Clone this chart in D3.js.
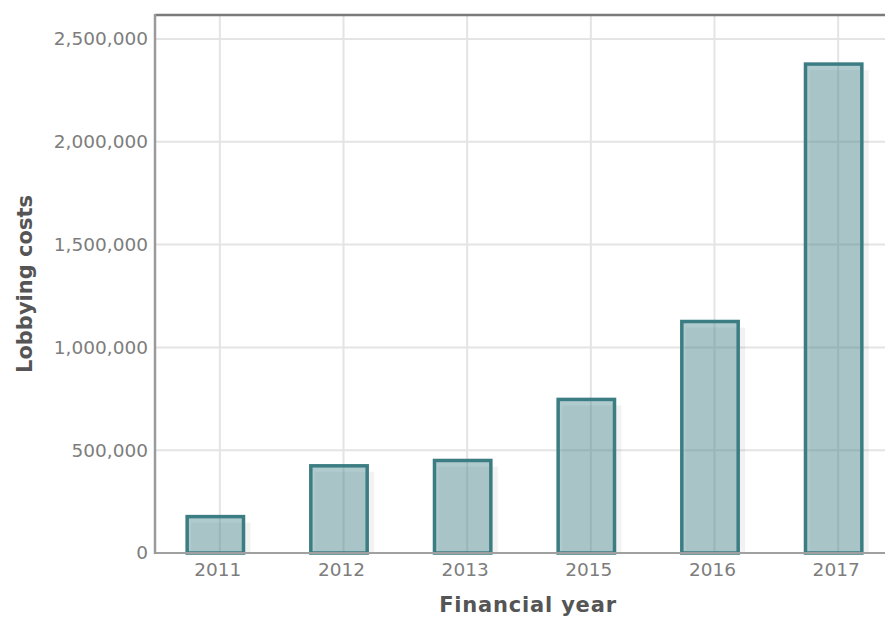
<!DOCTYPE html>
<html>
<head>
<meta charset="utf-8">
<script src="https://cdn.jsdelivr.net/npm/d3@7"></script>
<style>
body { margin: 0; background: #fff; }
svg { display: block; font-family: "DejaVu Sans", sans-serif; }
</style>
</head>
<body>
<script>
// data
var years = ['2011', '2012', '2013', '2015', '2016', '2017'];
var costs = [177000, 424000, 450000, 747000, 1126000, 2378000];
var yTicks = [0, 500000, 1000000, 1500000, 2000000, 2500000];

var data = years.map(function(y, i) { return {year: y, value: costs[i]}; });

var width = 885, height = 617;
var plotLeft = 155, plotTop = 15, plotBottom = 553, plotRight = 897;

var svg = d3.select('body')
  .append('svg')
  .attr('width', width)
  .attr('height', height);

var x = d3.scaleBand()
  .domain(years)
  .range([plotLeft, plotRight])
  .paddingInner(0.52)
  .paddingOuter(0.26);

var y = d3.scaleLinear()
  .domain([0, 2500000])
  .range([plotBottom, plotBottom - 5 * 102.8]);

var bw = x.bandwidth();

// grid
svg.append('g')
  .selectAll('line')
  .data(yTicks)
  .enter()
  .append('line')
  .attr('x1', plotLeft)
  .attr('x2', width)
  .attr('y1', function(d) { return y(d); })
  .attr('y2', function(d) { return y(d); })
  .attr('stroke', '#e4e4e4')
  .attr('stroke-width', 2);

svg.append('g')
  .selectAll('line')
  .data(years)
  .enter()
  .append('line')
  .attr('x1', function(d) { return x(d) + bw / 2 + 3; })
  .attr('x2', function(d) { return x(d) + bw / 2 + 3; })
  .attr('y1', plotTop)
  .attr('y2', plotBottom)
  .attr('stroke', '#e4e4e4')
  .attr('stroke-width', 2);

// shadows
svg.append('g')
  .selectAll('rect')
  .data(data)
  .enter()
  .append('rect')
  .attr('x', function(d) { return x(d.year) + 4; })
  .attr('y', function(d) { return y(d.value) + 6; })
  .attr('width', bw)
  .attr('height', function(d) { return plotBottom - y(d.value) - 6; })
  .attr('fill', '#000')
  .attr('fill-opacity', 0.05);

// bars
svg.append('g')
  .selectAll('rect')
  .data(data)
  .enter()
  .append('rect')
  .attr('class', 'bar')
  .attr('x', function(d) { return x(d.year); })
  .attr('y', function(d) { return y(d.value); })
  .attr('width', bw - 3)
  .attr('height', function(d) { return plotBottom - y(d.value); })
  .attr('fill', '#508d93')
  .attr('fill-opacity', 0.46)
  .attr('stroke', '#3b7d83')
  .attr('stroke-width', 3.5);

// frame lines
svg.append('line')
  .attr('x1', plotLeft).attr('x2', width)
  .attr('y1', plotTop).attr('y2', plotTop)
  .attr('stroke', '#7a7a7a')
  .attr('stroke-width', 2.5);

svg.append('line')
  .attr('x1', plotLeft).attr('x2', width)
  .attr('y1', plotBottom).attr('y2', plotBottom)
  .attr('stroke', '#a0a0a0')
  .attr('stroke-width', 2);

svg.append('line')
  .attr('x1', plotLeft).attr('x2', plotLeft)
  .attr('y1', plotTop - 1).attr('y2', plotBottom + 1)
  .attr('stroke', '#9a9a9a')
  .attr('stroke-width', 2.5);

// y tick labels
svg.append('g')
  .selectAll('text')
  .data(yTicks)
  .enter()
  .append('text')
  .attr('x', 148)
  .attr('y', function(d) { return y(d); })
  .attr('dy', '0.35em')
  .attr('text-anchor', 'end')
  .attr('fill', '#7d7d7d')
  .style('font-size', '18.5px')
  .text(function(d) { return d3.format(',')(d); });

// x tick labels
svg.append('g')
  .selectAll('text')
  .data(years)
  .enter()
  .append('text')
  .attr('x', function(d) { return x(d) + bw / 2 + 1; })
  .attr('y', 576)
  .attr('text-anchor', 'middle')
  .attr('fill', '#7d7d7d')
  .style('font-size', '18.5px')
  .text(function(d) { return d; });

// axis titles
svg.append('text')
  .attr('x', 528)
  .attr('y', 612)
  .attr('text-anchor', 'middle')
  .attr('fill', '#555')
  .style('font-size', '21px')
  .style('font-weight', 'bold')
  .style('letter-spacing', '0.8px')
  .text('Financial year');

svg.append('text')
  .attr('transform', 'translate(32,284) rotate(-90)')
  .attr('text-anchor', 'middle')
  .attr('fill', '#555')
  .style('font-size', '21px')
  .style('font-weight', 'bold')
  .text('Lobbying costs');
</script>
</body>
</html>
